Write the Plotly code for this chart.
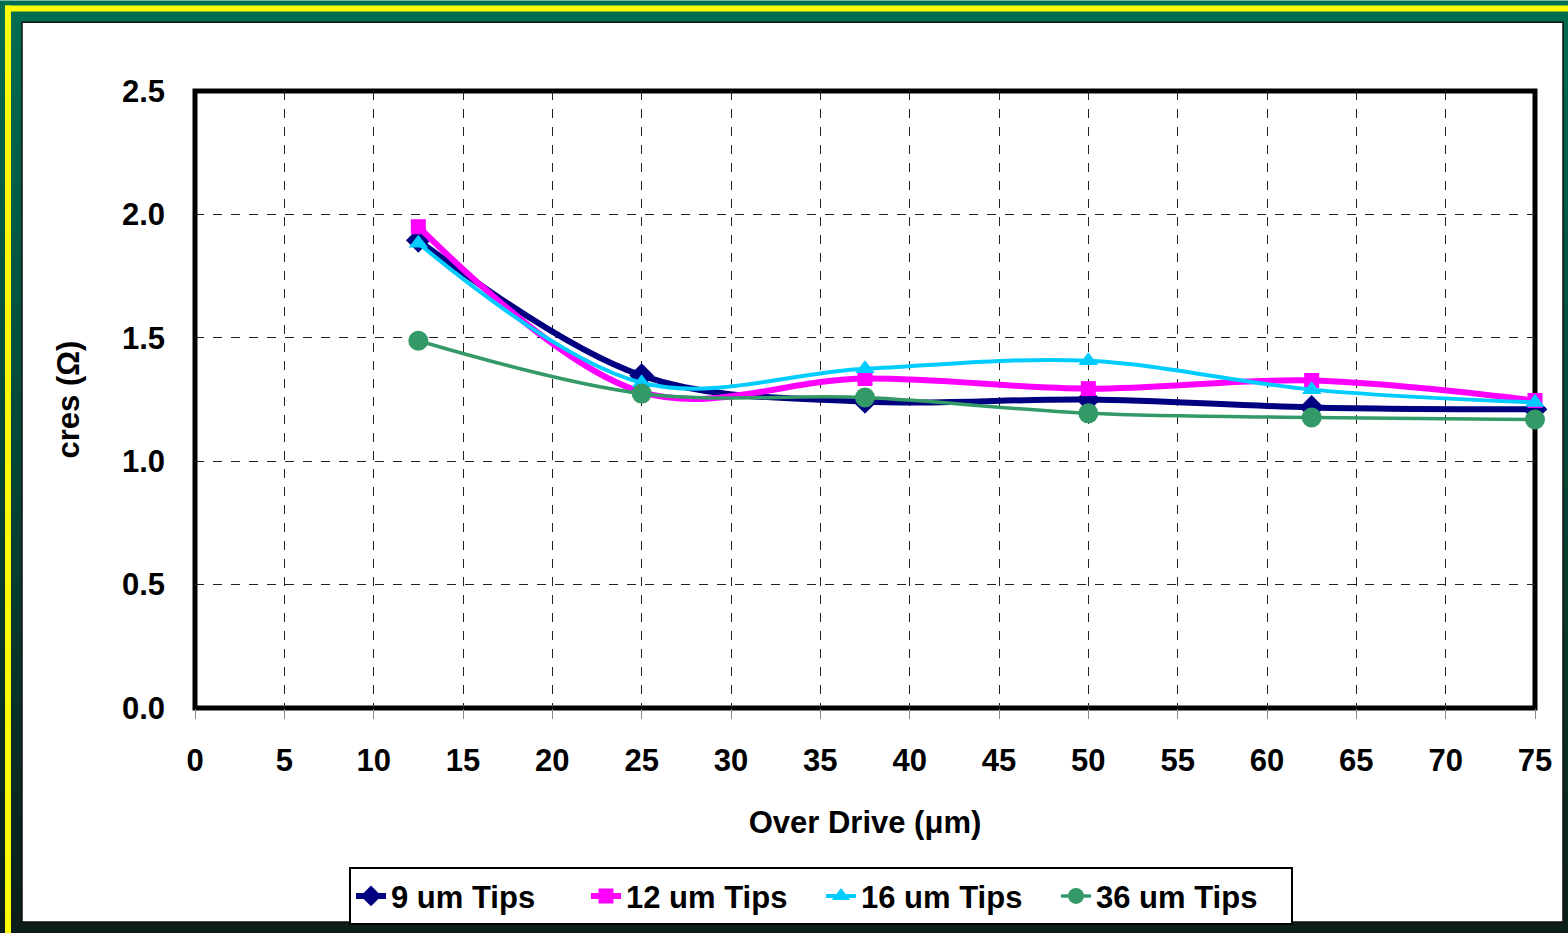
import plotly.graph_objects as go

# Over drive positions (um)
over_drive = [12.5, 25, 37.5, 50, 62.5, 75]

# Contact resistance per tip size (ohm)
tips_9um = [1.895, 1.347, 1.242, 1.250, 1.218, 1.210]
tips_12um = [1.950, 1.280, 1.335, 1.294, 1.327, 1.246]
tips_16um = [1.883, 1.318, 1.375, 1.407, 1.290, 1.238]
tips_36um = [1.488, 1.274, 1.258, 1.194, 1.177, 1.169]

series_names = ["9 um Tips", "12 um Tips", "16 um Tips", "36 um Tips"]

x_ticks = list(range(0, 80, 5))
y_ticks = [0.0, 0.5, 1.0, 1.5, 2.0, 2.5]

W, H = 1568, 937
L, R, T, B = 195, 33, 91, 226
PW, PH = W - L - R, H - T - B


def px_x(p):
    return (p - L) / PW


def px_y(p):
    return (H - B - p) / PH


FONT = "Liberation Sans, Arial, sans-serif"
FS = 31

fig = go.Figure()

styles = [
    dict(color="#000080", width=6, symbol="diamond", size=19),
    dict(color="#FF00FF", width=6, symbol="square", size=15),
    dict(color="#00CCFF", width=4, symbol="triangle-up", size=17),
    dict(color="#339966", width=3.5, symbol="circle", size=20),
]

for name, ys, st in zip(series_names, [tips_9um, tips_12um, tips_16um, tips_36um], styles):
    fig.add_trace(go.Scatter(
        x=over_drive, y=ys, name=name, mode="lines+markers",
        line=dict(color=st["color"], width=st["width"], shape="spline", smoothing=1.0),
        marker=dict(symbol=st["symbol"], size=st["size"], color=st["color"]),
        cliponaxis=False,
    ))

# Frame background: vertical green-to-dark gradient built from bands
shapes = []
top_rgb = (0, 108, 80)
bot_rgb = (12, 30, 26)
n = 40
for i in range(n):
    t = i / (n - 1)
    c = tuple(int(round(a + (b - a) * t)) for a, b in zip(top_rgb, bot_rgb))
    y0 = H * i / n
    y1 = H * (i + 1) / n + 1
    shapes.append(dict(type="rect", xref="paper", yref="paper", layer="below",
                       x0=px_x(0), x1=px_x(W), y0=px_y(y0), y1=px_y(min(y1, H)),
                       line=dict(width=0), fillcolor="rgb(%d,%d,%d)" % c))
# Yellow trim along top and left
shapes.append(dict(type="rect", xref="paper", yref="paper", layer="below",
                   x0=px_x(5), x1=px_x(W), y0=px_y(5), y1=px_y(11),
                   line=dict(width=0), fillcolor="#FFFF00"))
shapes.append(dict(type="rect", xref="paper", yref="paper", layer="below",
                   x0=px_x(5), x1=px_x(11), y0=px_y(5), y1=px_y(H),
                   line=dict(width=0), fillcolor="#FFFF00"))
# White chart panel
shapes.append(dict(type="rect", xref="paper", yref="paper", layer="below",
                   x0=px_x(22), x1=px_x(1563), y0=px_y(22), y1=px_y(926),
                   line=dict(width=1.5, color="#111111"), fillcolor="#FFFFFF"))
# Heavy plot-area frame centred on the data edges
shapes.append(dict(type="rect", xref="paper", yref="paper", layer="below",
                   x0=0, x1=1, y0=0, y1=1,
                   line=dict(width=5, color="#000000"), fillcolor="rgba(0,0,0,0)"))

fig.update_layout(
    width=W, height=H,
    margin=dict(l=L, r=R, t=T, b=B),
    paper_bgcolor="#FFFFFF",
    plot_bgcolor="rgba(0,0,0,0)",
    shapes=shapes,
    font=dict(family=FONT, color="#000000", size=FS, weight="bold"),
    showlegend=True,
    legend=dict(
        orientation="h", x=px_x(349), xanchor="left", y=px_y(871), yanchor="top",
        bgcolor="#FFFFFF", bordercolor="#000000", borderwidth=2,
        font=dict(family=FONT, size=FS, color="#000000", weight="bold"),
        itemsizing="trace", tracegroupgap=0,
        entrywidth=190, entrywidthmode="pixels",
    ),
    xaxis=dict(
        range=[0, 75], tickmode="array", tickvals=x_ticks,
        ticktext=[str(v) for v in x_ticks],
        showgrid=True, gridcolor="#222222", gridwidth=1, griddash="dash",
        showline=False,
        ticks="outside", ticklen=10, tickcolor="#888888", tickwidth=1,
        ticklabelstandoff=15,
        tickfont=dict(family=FONT, size=FS, color="#000000", weight="bold"),
        zeroline=False,
        title=dict(text="Over Drive (\u03bcm)", standoff=34,
                   font=dict(family=FONT, size=FS, color="#000000", weight="bold")),
    ),
    yaxis=dict(
        range=[0, 2.5], tickmode="array", tickvals=y_ticks,
        ticktext=["%.1f" % v for v in y_ticks],
        showgrid=True, gridcolor="#222222", gridwidth=1, griddash="dash",
        showline=False,
        ticks="", ticklabelstandoff=29,
        tickfont=dict(family=FONT, size=FS, color="#000000", weight="bold"),
        zeroline=False,
        title=dict(text="cres (\u03a9)", standoff=33,
                   font=dict(family=FONT, size=FS, color="#000000", weight="bold")),
    ),
)

fig.write_html("out.html")
